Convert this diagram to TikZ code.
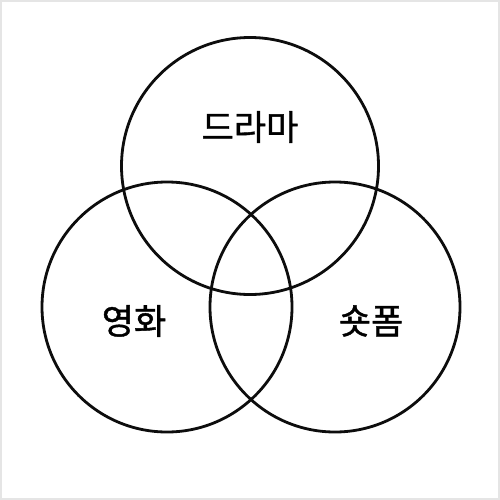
\documentclass[tikz,border=0pt]{standalone}
\usepackage{fontspec}
\newfontfamily\kofont[FakeBold=1.2]{Noto Sans CJK KR}
\usetikzlibrary{calc}

\begin{document}
\begin{tikzpicture}[
    x=1pt, y=-1pt,
    line width = 2.8pt,
    black!95,
    ]

    % Determines the boundries
    \path[use as bounding box] (0,0) rectangle (500,500);
    \fill[white] (0,0) rectangle (500,500);
    \draw[black!10, line width = 2pt] (1,1) rectangle (499,499);

    \def\rTop{128.5}        % radius of top circle
    \def\rLow{125}          % radius of lower circles

    % Centers of the circles
    \coordinate (DC) at (250,166);
    \coordinate (MC) at (167,307);
    \coordinate (SC) at (335,307);

    % The circles
    \draw (DC) circle (\rTop);
    \draw (MC) circle (\rLow);
    \draw (SC) circle (\rLow);

    % Labels
    \tikzset{setlabel/.style = {font = \kofont\fontsize{35}{40}\selectfont, black, inner sep = 0pt}}
    \node[setlabel] (drama) at (250,127) {드라마};
    \node[setlabel] (movie) at (134,321) {영화};
    \node[setlabel] (short) at (371,321) {숏폼};
\end{tikzpicture}
\end{document}
